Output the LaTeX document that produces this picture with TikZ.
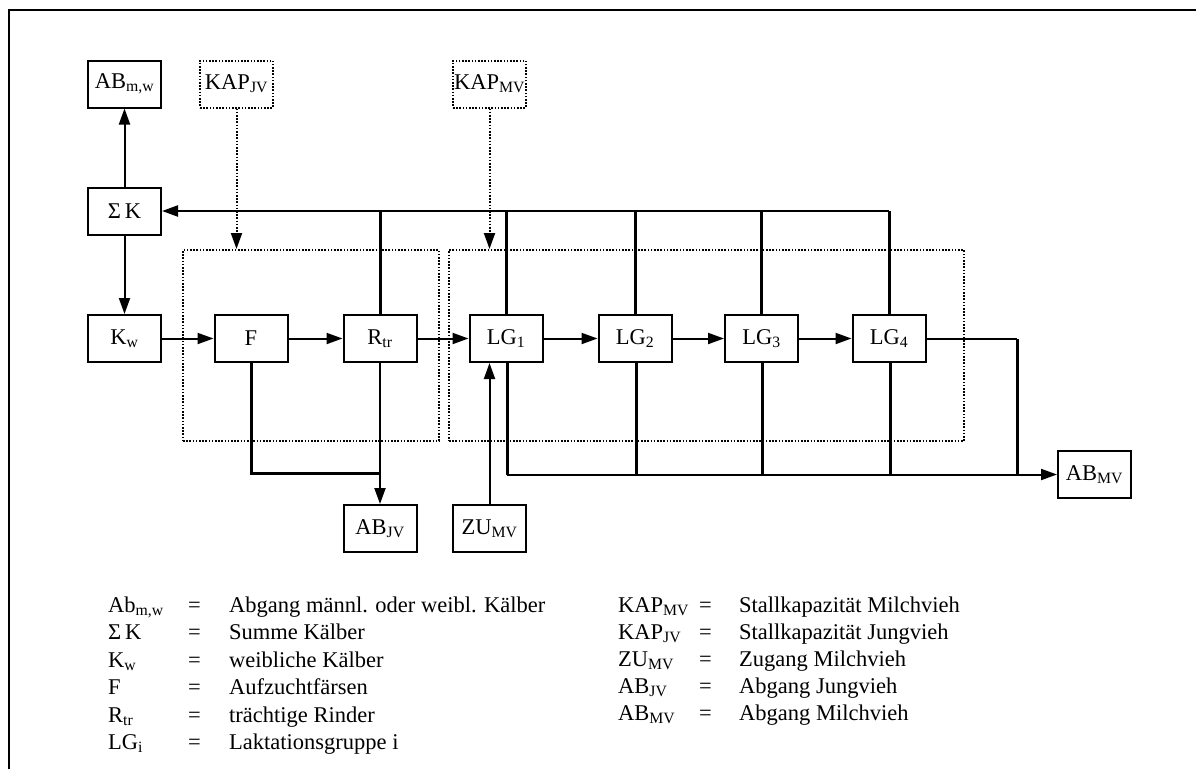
\documentclass[tikz,border=0pt]{standalone}
\usepackage{fontspec}
\setmainfont{Liberation Serif}
\usetikzlibrary{arrows.meta}
\begin{document}
\begin{tikzpicture}[x=1pt,y=-1pt,
  box/.style={draw,line width=2pt,minimum width=73pt,minimum height=47pt,inner sep=0pt,font=\fontsize{22.5}{24}\selectfont},
  capbox/.style={box,line width=2pt,dash pattern=on 1.6pt off 1.6pt},
  group/.style={draw,line width=2pt,dash pattern=on 1.6pt off 1.6pt,inner sep=0pt},
  flow/.style={line width=2pt},
  heavy/.style={line width=3pt},
  tip/.style={-{Triangle[length=16pt,width=11pt]}},
  dotflow/.style={line width=2pt,dash pattern=on 1.6pt off 1.6pt},
  legend/.style={anchor=base west,inner sep=0pt,font=\fontsize{22.5}{24}\selectfont},
]
\useasboundingbox (0,0) rectangle (1196,769);
% frame
\draw[line width=2pt] (9,769) -- (9,10) -- (1196,10);

% dotted groups
\node[group,minimum width=256pt,minimum height=191pt] (G1) at (311,345.5) {};
\node[group,minimum width=515pt,minimum height=191pt] (G2) at (706.5,345.5) {};

% top row
\node[box] (ABmw) at (124.5,84) {AB\textsubscript{m,w}};
\node[capbox] (KAPJV) at (236.5,84) {KAP\textsubscript{JV}};
\node[capbox] (KAPMV) at (489.5,84) {KAP\textsubscript{MV}};
\node[box] (SK) at (124.5,211) {Σ\,K};

% main chain
\node[box] (Kw) at (124.5,338.5) {K\textsubscript{w}};
\node[box] (F) at (251,338.5) {F};
\node[box] (Rtr) at (380,338.5) {R\textsubscript{tr}};
\node[box] (LG1) at (506,338.5) {LG\textsubscript{1}};
\node[box] (LG2) at (635,338.5) {LG\textsubscript{2}};
\node[box] (LG3) at (761.5,338.5) {LG\textsubscript{3}};
\node[box] (LG4) at (889,338.5) {LG\textsubscript{4}};

% bottom boxes
\node[box] (ABJV) at (380,528.5) {AB\textsubscript{JV}};
\node[box] (ZUMV) at (489.5,528.5) {ZU\textsubscript{MV}};
\node[box] (ABMV) at (1094.5,474.5) {AB\textsubscript{MV}};

% helper points
\coordinate (top) at (889,211);
\coordinate (bot) at (507,474.5);
\coordinate (out) at (1017,338.5);

% calves
\draw[flow,tip] (SK) -- (ABmw);
\draw[flow,tip] (SK) -- (Kw);
\draw[flow,tip] (Kw) -- (F);
\draw[flow,tip] (F) -- (Rtr);
\draw[flow,tip] (Rtr) -- (LG1);
\draw[flow,tip] (LG1) -- (LG2);
\draw[flow,tip] (LG2) -- (LG3);
\draw[flow,tip] (LG3) -- (LG4);

% capacities
\draw[dotflow,tip] (KAPJV.south) -- (KAPJV.south |- G1.north);
\draw[dotflow,tip] (KAPMV.south) -- (KAPMV.south |- G2.north);

% calves born back to the sum
\draw[flow,line width=2.2pt,tip] (top) -- (SK.east);
\foreach \n in {Rtr,LG1,LG2,LG3,LG4}
  \draw[heavy] (\n.north) -- (\n.north |- top);

% young stock leaving
\draw[heavy] (F.south) |- (Rtr.south |- 0,473);
\draw[flow,tip] (Rtr.south) -- (ABJV.north);

% dairy cows in and out
\draw[flow,tip] (ZUMV.north) -- (ZUMV.north |- LG1.south);
\foreach \n in {LG1,LG2,LG3,LG4}
  \draw[heavy] ([xshift=1pt]\n.south) -- ([xshift=1pt]\n.south |- bot);
\draw[flow] (LG4.east) -- (out);
\draw[heavy] (out) -- (out |- bot);
\draw[flow,tip] (bot) -- (ABMV.west);

% legend
\node[legend] (t1) at (108,612) {Ab\textsubscript{m,w}};
\node[legend] (t2) at (108,639.5) {Σ\,K};
\node[legend] (t3) at (108,667) {K\textsubscript{w}};
\node[legend] (t4) at (108,694.5) {F};
\node[legend] (t5) at (108,722) {R\textsubscript{tr}};
\node[legend] (t6) at (108,749) {LG\textsubscript{i}};
\foreach \i/\y in {1/612,2/639.5,3/667,4/694.5,5/722,6/749}
  \node[legend] (e\i) at (188,\y) {=};
\node[legend] (d1) at (229,612) {Abgang männl. oder weibl. Kälber};
\node[legend] (d2) at (229,639.5) {Summe Kälber};
\node[legend] (d3) at (229,667) {weibliche Kälber};
\node[legend] (d4) at (229,694.5) {Aufzuchtfärsen};
\node[legend] (d5) at (229,722) {trächtige Rinder};
\node[legend] (d6) at (229,749) {Laktationsgruppe i};

\node[legend] (u1) at (618,612) {KAP\textsubscript{MV}};
\node[legend] (u2) at (618,639) {KAP\textsubscript{JV}};
\node[legend] (u3) at (618,666) {ZU\textsubscript{MV}};
\node[legend] (u4) at (618,693) {AB\textsubscript{JV}};
\node[legend] (u5) at (618,720) {AB\textsubscript{MV}};
\foreach \i/\y in {1/612,2/639,3/666,4/693,5/720}
  \node[legend] (f\i) at (699,\y) {=};
\node[legend] (v1) at (739,612) {Stallkapazität Milchvieh};
\node[legend] (v2) at (739,639) {Stallkapazität Jungvieh};
\node[legend] (v3) at (739,666) {Zugang Milchvieh};
\node[legend] (v4) at (739,693) {Abgang Jungvieh};
\node[legend] (v5) at (739,720) {Abgang Milchvieh};
\end{tikzpicture}
\end{document}
